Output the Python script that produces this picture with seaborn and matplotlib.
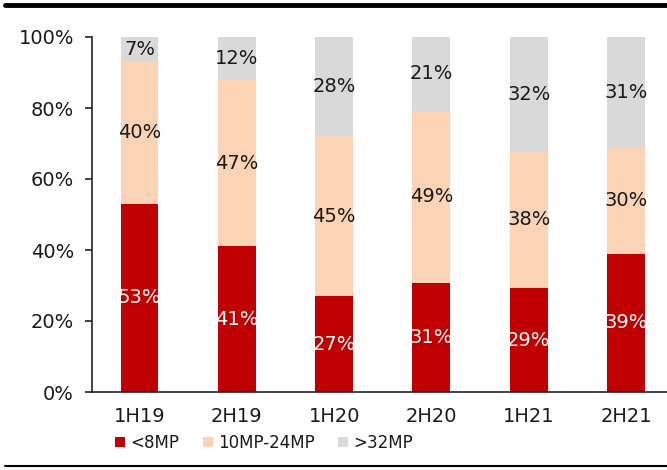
import numpy as np
import pandas as pd
import matplotlib
matplotlib.use("Agg")
import matplotlib.pyplot as plt
import seaborn as sns
from matplotlib.patches import Patch
from matplotlib.lines import Line2D

periods = ["1H19", "2H19", "1H20", "2H20", "1H21", "2H21"]
lt8 = [53, 41, 27, 31, 29, 39]
mid = [40, 47, 45, 49, 38, 30]
gt32 = [7, 12, 28, 21, 32, 31]
series_names = ["<8MP", "10MP-24MP", ">32MP"]
colors = ["#C00000", "#FBD3B5", "#D9D9D9"]
label_colors = ["white", "#1a1a1a", "#1a1a1a"]

sns.set_theme(style="white")
plt.rcParams["font.family"] = ["DejaVu Sans"]

raw = np.array([lt8, mid, gt32], dtype=float)
shares = raw / raw.sum(axis=0) * 100

fig = plt.figure(figsize=(6.67, 4.70), dpi=100)
ax = fig.add_axes([92/667, 78/470, 575/667, 355/470])

bottom = np.zeros(len(periods))
for i, name in enumerate(series_names):
    sns.barplot(x=periods, y=shares[i], bottom=bottom, color=colors[i],
                width=0.39, ax=ax, saturation=1, linewidth=0)
    for j in range(len(periods)):
        ax.text(j, bottom[j] + shares[i][j] / 2, f"{int(raw[i][j])}%",
                ha="center", va="center", fontsize=14,
                color=label_colors[i])
    bottom = bottom + shares[i]

ax.set_xlim(-0.488, 5.42)
ax.set_ylim(0, 100)
ax.set_yticks([0, 20, 40, 60, 80, 100])
ax.set_yticklabels([f"{v}%" for v in [0, 20, 40, 60, 80, 100]])
ax.tick_params(axis="y", direction="out", length=5, width=1.2, color="#222222",
               labelsize=14, labelcolor="#1a1a1a", pad=8, left=True)
ax.tick_params(axis="x", length=0, labelsize=14, labelcolor="#1a1a1a", pad=11)
for s in ["top", "right"]:
    ax.spines[s].set_visible(False)
for s in ["left", "bottom"]:
    ax.spines[s].set_color("#222222")
    ax.spines[s].set_linewidth(1.2)
ax.set_xlabel("")
ax.set_ylabel("")

handles = [Patch(facecolor=c, edgecolor="none") for c in colors]
fig.legend(handles, series_names, loc="center", bbox_to_anchor=(264/667, 1 - 443/470),
           ncol=3, frameon=False, fontsize=12, handlelength=0.6, handleheight=0.6,
           handletextpad=0.3, columnspacing=1.4, labelcolor="#1a1a1a")

fig.add_artist(Line2D([5/667, 1], [1 - 5/470, 1 - 5/470], color="black", linewidth=3.5,
                      transform=fig.transFigure))
fig.add_artist(Line2D([5/667, 1], [1 - 466/470, 1 - 466/470], color="black", linewidth=1.5,
                      transform=fig.transFigure))

fig.savefig("out.png", dpi=100)
